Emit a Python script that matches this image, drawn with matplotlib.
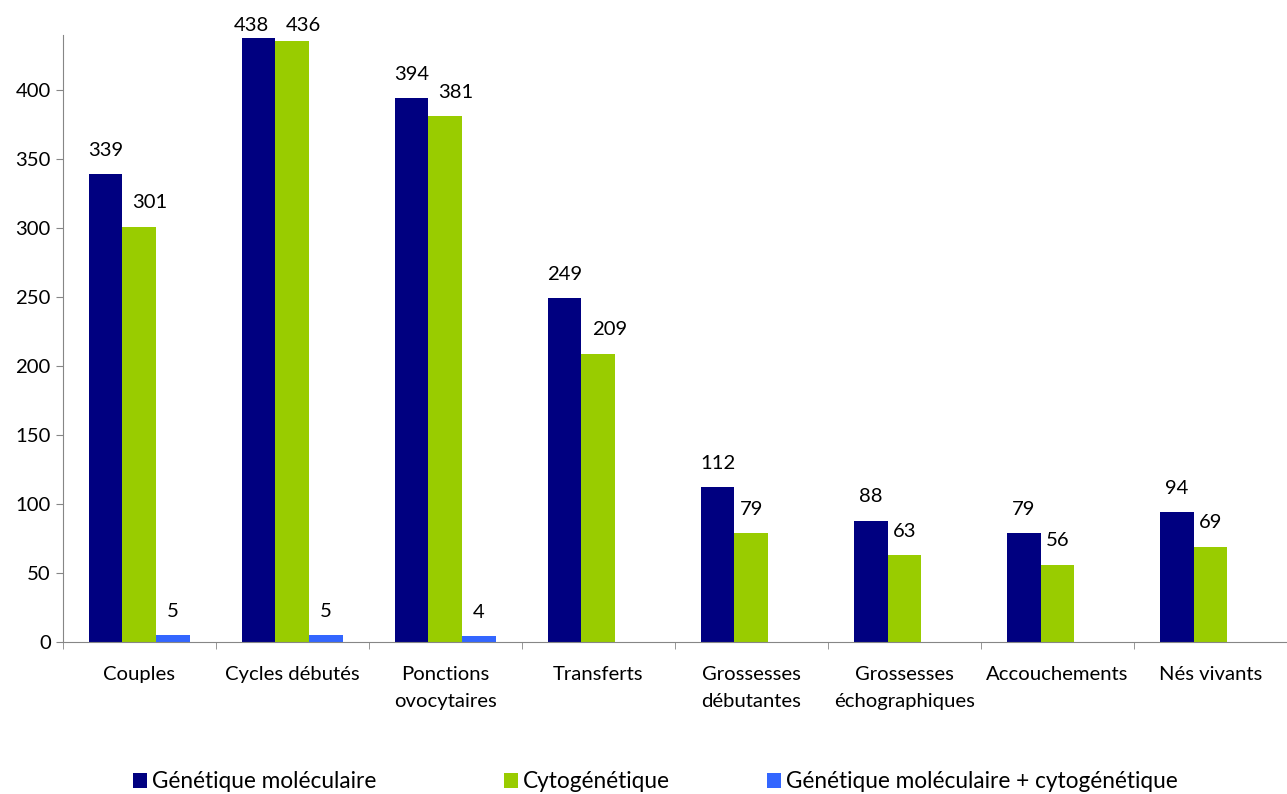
import numpy as np
import matplotlib.pyplot as plt
from matplotlib.patches import Patch

plt.rcParams['font.family'] = ['Lato', 'DejaVu Sans']

categories = ['Couples', 'Cycles débutés', 'Ponctions\novocytaires', 'Transferts',
              'Grossesses\ndébutantes', 'Grossesses\néchographiques',
              'Accouchements', 'Nés vivants']
gen_mol = [339, 438, 394, 249, 112, 88, 79, 94]
cytogen = [301, 436, 381, 209, 79, 63, 56, 69]
gen_cyto = [5, 5, 4, None, None, None, None, None]

series = [
    ('Génétique moléculaire', gen_mol, '#000080'),
    ('Cytogénétique', cytogen, '#99CC00'),
    ('Génétique moléculaire + cytogénétique', gen_cyto, '#3366FF'),
]

FS = 14.6
W, H = 1287, 794
PX = 154.1  # pixels per category
fig = plt.figure(figsize=(W / 100, H / 100), dpi=100)
# left spine at x=62, zero line at y=642, top at 35; the axis runs off the right edge
ax = fig.add_axes([62.5 / W, (H - 642) / H, (W - 62.5) / W, (642 - 35) / H])

x = np.arange(len(categories))
bw = 0.22
for i, (name, vals, color) in enumerate(series):
    off = (i - 1) * bw
    for xi, v in zip(x, vals):
        if v is None:
            continue
        ax.bar(xi + off, v, width=bw, color=color, edgecolor='none')
        # Excel nudged a few labels sideways; copy that
        dx = 0
        if i == 1 and v >= 100:
            dx = 11
        if i == 0 and v > 437:
            dx = -7
        ax.annotate(str(v), xy=(xi + off, min(v + 24 / 1.38, 447)),
                    xytext=(dx, 0), textcoords='offset pixels',
                    ha='center', va='center', fontsize=FS, annotation_clip=False)

ax.set_ylim(0, 440)
ax.set_xlim(-0.5, -0.5 + (W - 62.5) / PX)
ax.set_yticks(range(0, 401, 50))
ax.tick_params(axis='y', labelsize=FS, length=5, color='#868686', direction='out')

ax.set_xticks(x)
ax.set_xticklabels(categories, fontsize=FS, linespacing=1.75)
ax.tick_params(axis='x', length=0, pad=17)
ax.set_xticks(np.arange(-0.5, len(categories), 1), minor=True)
ax.tick_params(axis='x', which='minor', length=5, color='#868686')

for s in ['top', 'right']:
    ax.spines[s].set_visible(False)
for s in ['left', 'bottom']:
    ax.spines[s].set_color('#868686')

# legend: three entries placed like the original, squares at x = 133, 504, 767
for (name, _, color), lx in zip(series, [133, 504, 767]):
    fig.legend([Patch(facecolor=color, edgecolor='none')], [name],
               loc='center left', bbox_to_anchor=(lx / W, (H - 782) / H),
               frameon=False, fontsize=16.3, borderpad=0, borderaxespad=0,
               handlelength=0.62, handleheight=0.62, handletextpad=0.2)

fig.savefig('out.png', dpi=100)
